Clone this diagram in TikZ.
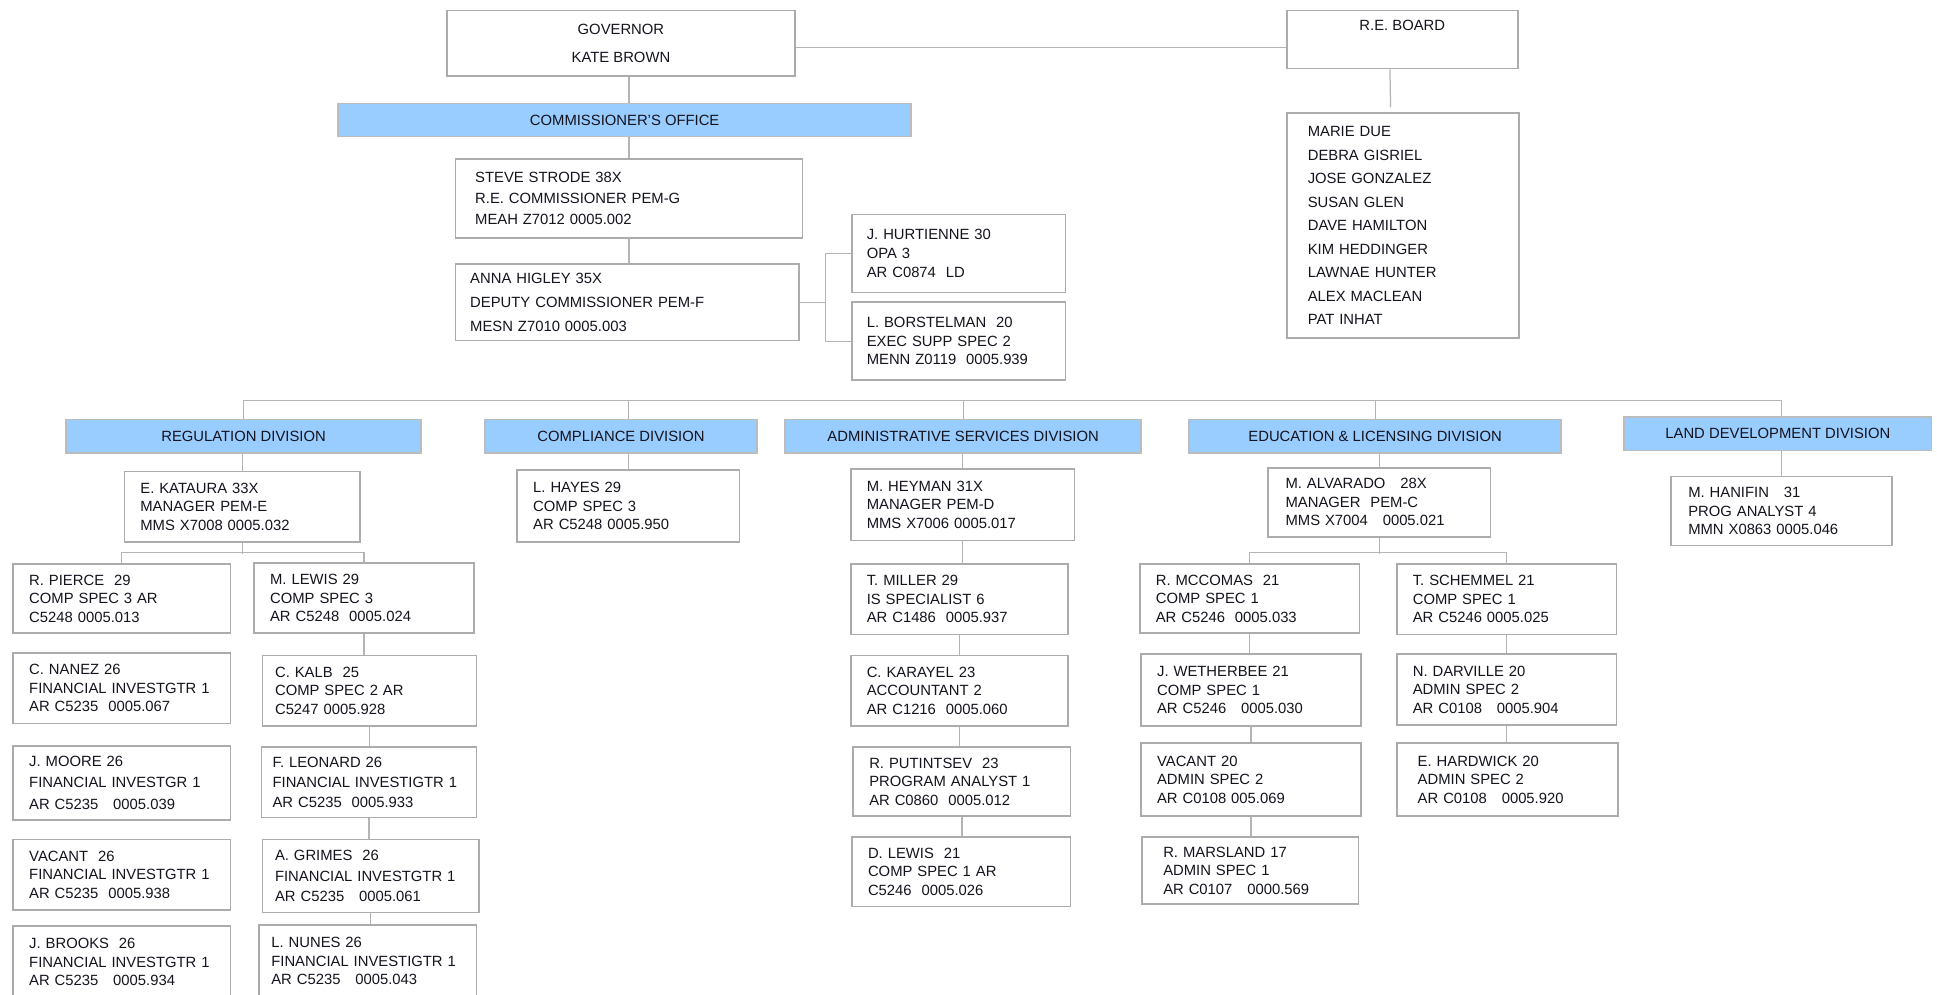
\documentclass[tikz,border=0pt]{standalone}
\usepackage{fontspec}
\setmainfont{Liberation Sans}
\usepackage{tikz}
\usetikzlibrary{positioning,calc}
\definecolor{ink}{RGB}{20,20,30}
\definecolor{boxgray}{RGB}{172,172,172}
\definecolor{linkgray}{RGB}{180,180,180}
\definecolor{divgray}{RGB}{188,188,188}
\definecolor{divblue}{RGB}{153,204,255}
\tikzset{
  person/.style={draw=boxgray,line width=1.3pt,anchor=north west,align=left,inner xsep=13pt,inner ysep=0pt},
  division/.style={draw=divgray,fill=divblue,line width=1.3pt,anchor=north west,minimum height=27pt,inner sep=0pt},
  link/.style={draw=linkgray,line width=1pt}
}

\begin{document}
\begin{tikzpicture}[x=1pt,y=-1pt,every node/.style={font=\fontsize{12}{15}\selectfont,text=ink}]
  \useasboundingbox[fill=white] (0,0) rectangle (1568,805);
  % top of the chart
  \node[person,align=center,minimum width=282pt,minimum height=53pt] (gov) at (361,8) {GOVERNOR\\[7pt]KATE BROWN};
  \node[person,align=center,minimum width=187pt,inner ysep=7.7pt,text depth=23pt] (board) at (1041,8) {R.E. BOARD};
  \node[person,inner xsep=17pt,text width=154pt,minimum height=182pt,font=\fontsize{12}{19}\selectfont] (members) at (1041,91) {
    MARIE DUE\\DEBRA GISRIEL\\JOSE GONZALEZ\\SUSAN GLEN\\DAVE HAMILTON\\KIM HEDDINGER\\LAWNAE HUNTER\\ALEX MACLEAN\\PAT INHAT
  };
  \node[division,minimum width=464pt] (office) at (273,83) {COMMISSIONER'S OFFICE};
  \node[person,inner xsep=16pt,text width=249pt,minimum height=64pt,font=\fontsize{12}{17}\selectfont] (strode) at (368,128) {
    STEVE STRODE 38X\\R.E. COMMISSIONER PEM-G\\MEAH Z7012 0005.002
  };
  \node[person,inner xsep=12pt,text width=254pt,minimum height=62pt,font=\fontsize{12}{19.5}\selectfont] (higley) at (368,213) {
    ANNA HIGLEY 35X\\DEPUTY COMMISSIONER PEM-F\\MESN Z7010 0005.003
  };
  \node[person,inner xsep=12pt,text width=149pt,minimum height=63pt,font=\fontsize{12}{15.5}\selectfont] (hurt) at (689,173) {
    J. HURTIENNE 30\\OPA 3\\AR C0874\ \ LD
  };
  \node[person,inner xsep=12pt,text width=149pt,minimum height=63pt,font=\fontsize{12}{15}\selectfont] (borst) at (689,244) {
    L. BORSTELMAN\ \ 20\\EXEC SUPP SPEC 2\\MENN Z0119\ \ 0005.939
  };

  % divisions
  \node[division,minimum width=287pt] (reg) at (53,339) {REGULATION DIVISION};
  \node[division,minimum width=220pt] (comp) at (392,339) {COMPLIANCE DIVISION};
  \node[division,minimum width=288pt] (adm) at (635,339) {ADMINISTRATIVE SERVICES DIVISION};
  \node[division,minimum width=301pt] (edu) at (962,339) {EDUCATION \& LICENSING DIVISION};
  \node[division,minimum width=249pt] (land) at (1314,337) {LAND DEVELOPMENT DIVISION};

  % regulation
  \node[person,text width=165pt,minimum height=57pt] (kat) at (100,381) {E. KATAURA 33X\\MANAGER PEM-E\\MMS X7008 0005.032};
  \node[person,text width=150pt,minimum height=56pt] (pierce) at (10,456) {R. PIERCE\ \ 29\\COMP SPEC 3 AR\\C5248 0005.013};
  \node[person,text width=150pt,minimum height=57pt] (nanez) at (10,528) {C. NANEZ 26\\FINANCIAL INVESTGTR 1\\AR C5235\ \ 0005.067};
  \node[person,text width=150pt,minimum height=60pt,font=\fontsize{12}{17.5}\selectfont] (moore) at (10,603) {J. MOORE 26\\FINANCIAL INVESTGR 1\\AR C5235\ \ \ 0005.039};
  \node[person,text width=150pt,minimum height=57pt] (vacreg) at (10,679) {VACANT\ \ 26\\FINANCIAL INVESTGTR 1\\AR C5235\ \ 0005.938};
  \node[person,text width=150pt,minimum height=58pt] (brooks) at (10,749) {J. BROOKS\ \ 26\\FINANCIAL INVESTGTR 1\\AR C5235\ \ \ 0005.934};
  \node[person,text width=152pt,minimum height=57pt] (lewis) at (205,455) {M. LEWIS 29\\COMP SPEC 3\\AR C5248\ \ 0005.024};
  \node[person,inner xsep=10pt,text width=153pt,minimum height=57pt] (kalb) at (212,530) {C. KALB\ \ 25\\COMP SPEC 2 AR\\C5247 0005.928};
  \node[person,inner xsep=9pt,text width=156pt,minimum height=57pt,font=\fontsize{12}{16}\selectfont] (leonard) at (211,604) {F. LEONARD 26\\FINANCIAL INVESTIGTR 1\\AR C5235\ \ 0005.933};
  \node[person,inner xsep=10pt,text width=155pt,minimum height=59pt,font=\fontsize{12}{16.5}\selectfont] (grimes) at (212,679) {A. GRIMES\ \ 26\\FINANCIAL INVESTGTR 1\\AR C5235\ \ \ 0005.061};
  \node[person,inner xsep=10pt,text width=156pt,minimum height=59pt] (nunes) at (209,748) {L. NUNES 26\\FINANCIAL INVESTIGTR 1\\AR C5235\ \ \ 0005.043};

  % compliance
  \node[person,text width=154pt,minimum height=58pt] (hayes) at (418,380) {L. HAYES 29\\COMP SPEC 3\\AR C5248 0005.950};

  % administrative services
  \node[person,text width=155pt,minimum height=58pt] (heyman) at (688,379) {M. HEYMAN 31X\\MANAGER PEM-D\\MMS X7006 0005.017};
  \node[person,text width=150pt,minimum height=57pt] (miller) at (688,456) {T. MILLER 29\\IS SPECIALIST 6\\AR C1486\ \ 0005.937};
  \node[person,text width=150pt,minimum height=57pt] (karayel) at (688,530) {C. KARAYEL 23\\ACCOUNTANT 2\\AR C1216\ \ 0005.060};
  \node[person,text width=150pt,minimum height=56pt] (putin) at (690,604) {R. PUTINTSEV\ \ 23\\PROGRAM ANALYST 1\\AR C0860\ \ 0005.012};
  \node[person,text width=151pt,minimum height=56pt] (dlewis) at (689,677) {D. LEWIS\ \ 21\\COMP SPEC 1 AR\\C5246\ \ 0005.026};

  % education & licensing
  \node[person,inner xsep=14pt,text width=152pt,minimum height=56pt] (alv) at (1026,378) {M. ALVARADO\ \ \ 28X\\MANAGER\ \ PEM-C\\MMS X7004\ \ \ 0005.021};
  \node[person,text width=152pt,minimum height=56pt] (mcc) at (922,456) {R. MCCOMAS\ \ 21\\COMP SPEC 1\\AR C5246\ \ 0005.033};
  \node[person,text width=152pt,minimum height=58pt] (weth) at (923,529) {J. WETHERBEE 21\\COMP SPEC 1\\AR C5246\ \ \ 0005.030};
  \node[person,text width=152pt,minimum height=59pt] (vacedu) at (923,601) {VACANT 20\\ADMIN SPEC 2\\AR C0108 005.069};
  \node[person,inner xsep=17pt,text width=141pt,minimum height=54pt] (mars) at (924,677) {R. MARSLAND 17\\ADMIN SPEC 1\\AR C0107\ \ \ 0000.569};
  \node[person,text width=152pt,minimum height=57pt] (sch) at (1130,456) {T. SCHEMMEL 21\\COMP SPEC 1\\AR C5246 0005.025};
  \node[person,text width=152pt,minimum height=57pt] (darv) at (1130,529) {N. DARVILLE 20\\ADMIN SPEC 2\\AR C0108\ \ \ 0005.904};
  \node[person,inner xsep=17pt,text width=145pt,minimum height=59pt] (hard) at (1130,601) {E. HARDWICK 20\\ADMIN SPEC 2\\AR C0108\ \ \ 0005.920};

  % land development
  \node[person,inner xsep=14pt,text width=151pt,minimum height=56pt] (han) at (1352,385) {M. HANIFIN\ \ \ 31\\PROG ANALYST 4\\MMN X0863 0005.046};

  % connectors, top
  \coordinate (tie) at ([yshift=-3.5pt]gov.east);
  \draw[link] (tie) -- (tie -| board.west);
  \draw[link] ([xshift=-10pt]board.south) -- ([xshift=-10pt,yshift=4pt]members.north);
  \draw[link] (strode.north |- gov.south) -- (strode.north |- office.north);
  \draw[link] (strode.north |- office.south) -- (strode.north);
  \draw[link] (strode.south) -- (strode.south |- higley.north);
  \coordinate (fork) at ([xshift=21pt]higley.east);
  \draw[link] (higley.east) -- (fork);
  \draw[link] (hurt.west) -| (fork) |- (borst.west);

  % division bus
  \coordinate (bus) at (0,324);
  \draw[link] (reg.north) -- (reg.north |- bus) -- (han.north |- bus) -- (han.north |- land.north);
  \foreach \d/\x in {comp/hayes,adm/adm,edu/edu}
    \draw[link] (\x.north |- \d.north) -- (\x.north |- bus);

  % under the divisions
  \draw[link] (kat.north |- reg.south) -- (kat.north);
  \draw[link] (kat.south) -- ++(0,9);
  \draw[link] (pierce.north) -- ++(0,-9) -| (lewis.north);
  \draw[link] (hayes.north |- comp.south) -- (hayes.north);
  \draw[link] (heyman.north |- adm.south) -- (heyman.north);
  \draw[link] (alv.north |- edu.south) -- (alv.north);
  \draw[link] (alv.south) -- ++(0,13);
  \draw[link] (mcc.north) -- ++(0,-9) -| (sch.north);
  \draw[link] (han.north |- land.south) -- (han.north);
  \foreach \a/\b in {lewis/kalb,kalb/leonard,leonard/grimes,grimes/nunes,
                     heyman/miller,miller/karayel,karayel/putin,putin/dlewis,
                     mcc/weth,weth/vacedu,vacedu/mars,sch/darv,darv/hard}
    \draw[link] (\a.south) -- (\a.south |- \b.north);
\end{tikzpicture}
\end{document}
